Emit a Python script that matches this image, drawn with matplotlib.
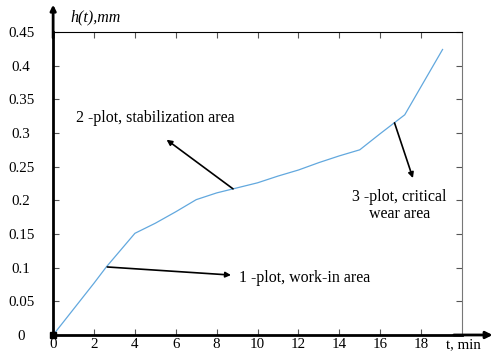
import matplotlib.pyplot as plt
import numpy as np

plt.rcParams['font.family'] = ['Liberation Serif', 'DejaVu Serif']

# wear curve h(t)
T_MIN = [0, 2, 2.6, 4, 5, 6, 7, 8, 8.8, 10, 11, 12, 13, 14, 15, 16, 17.2, 18, 19.05]
H_MM = [0, 0.077, 0.101, 0.151, 0.166, 0.183, 0.201, 0.211, 0.217, 0.226, 0.236,
        0.245, 0.256, 0.266, 0.275, 0.299, 0.327, 0.369, 0.424]

X_TICKS = list(range(0, 20, 2))
Y_TICKS = [0, 0.05, 0.1, 0.15, 0.2, 0.25, 0.3, 0.35, 0.4, 0.45]
Y_LABELS = ["0", "0.05", "0.1", "0.15", "0.2", "0.25", "0.3", "0.35", "0.4", "0.45"]

LINE_COLOR = "#62a8de"
FS_TICK = 10.8
FS_NOTE = 11.5

fig = plt.figure(figsize=(4.92, 3.54), dpi=100)
ax = fig.add_axes([0.108, 0.0537, 0.831, 0.856])

ax.plot(T_MIN, H_MM, color=LINE_COLOR, linewidth=0.9)
ax.plot([0], [0], marker="s", color="black", markersize=4, clip_on=False, zorder=5)

ax.set_xlim(0, 20)
ax.set_ylim(0, 0.45)
ax.set_xticks(X_TICKS)
ax.set_xticklabels([str(v) for v in X_TICKS], fontsize=FS_TICK)
ax.set_yticks(Y_TICKS)
ax.set_yticklabels(Y_LABELS, fontsize=FS_TICK, ha="center")

ax.tick_params(axis="both", direction="in", length=4, width=0.8,
               top=True, right=True, color="#555555")
ax.tick_params(axis="y", pad=23)
ax.tick_params(axis="x", pad=2)

ax.spines["left"].set_linewidth(2)
ax.spines["bottom"].set_linewidth(2)
ax.spines["top"].set_linewidth(0.8)
ax.spines["right"].set_linewidth(0.8)
ax.spines["right"].set_color("#777777")

# axis arrows
ax.annotate("", xy=(0, 1.09), xytext=(0, 0.98), xycoords="axes fraction",
            arrowprops=dict(arrowstyle="-|>", color="black", lw=2,
                            mutation_scale=8, shrinkA=0, shrinkB=0),
            annotation_clip=False)
ax.annotate("", xy=(1.075, 0), xytext=(0.98, 0), xycoords="axes fraction",
            arrowprops=dict(arrowstyle="-|>", color="black", lw=2,
                            mutation_scale=10, shrinkA=0, shrinkB=0),
            annotation_clip=False)

ax.text(0.042, 1.048, "h(t),mm", transform=ax.transAxes, fontsize=FS_NOTE,
        style="italic", ha="left", va="center")
ax.text(0.962, -0.033, "t, min", transform=ax.transAxes, fontsize=FS_TICK,
        ha="left", va="center")

arrow = dict(arrowstyle="-|>", color="black", lw=1.2, mutation_scale=8,
             shrinkA=0, shrinkB=0)

ax.annotate("", xy=(5.55, 0.29), xytext=(8.8, 0.217), arrowprops=arrow)
ax.text(5.0, 0.322, "2 -plot, stabilization area", fontsize=FS_NOTE,
        ha="center", va="center")

ax.annotate("", xy=(8.7, 0.089), xytext=(2.65, 0.101), arrowprops=arrow)
ax.text(9.1, 0.085, "1 -plot, work-in area", fontsize=FS_NOTE,
        ha="left", va="center")

ax.annotate("", xy=(17.6, 0.233), xytext=(16.7, 0.315), arrowprops=arrow)
ax.text(16.95, 0.192, "3 -plot, critical\nwear area", fontsize=FS_NOTE,
        ha="center", va="center", linespacing=1.1)

fig.savefig("out.png", dpi=100)
